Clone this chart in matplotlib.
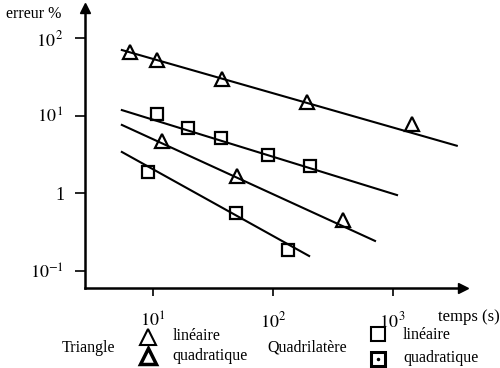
import numpy as np
import matplotlib
matplotlib.use("Agg")
import matplotlib.pyplot as plt

plt.rcParams["font.family"] = ["Liberation Serif", "DejaVu Serif"]
plt.rcParams["mathtext.fontset"] = "stix"

# -----------------------------
# Data
# -----------------------------
tri_lin_t = [6.4, 10.8, 37.6, 192, 1440]
tri_lin_err = [66, 52, 29.7, 15, 7.8]
tri_lin_line_t = [5.5, 3400]
tri_lin_line_err = [70, 4.1]

quad_lin_t = [10.8, 19.6, 36.9, 91, 203]
quad_lin_err = [10.5, 6.95, 5.16, 3.12, 2.25]
quad_lin_line_t = [5.5, 1080]
quad_lin_line_err = [11.8, 0.95]

tri_quad_t = [11.9, 50, 383]
tri_quad_err = [4.72, 1.68, 0.455]
tri_quad_line_t = [5.5, 708]
tri_quad_line_err = [7.6, 0.244]

quad_quad_t = [9.1, 49.2, 133]
quad_quad_err = [1.88, 0.56, 0.187]
quad_quad_line_t = [5.5, 200]
quad_quad_line_err = [3.41, 0.156]

x_ticks = [10, 100, 1000]
x_tick_labels = ["$10^{1}$", "$10^{2}$", "$10^{\\,3}$"]
y_ticks = [0.1, 1, 10, 100]
y_tick_labels = ["$10^{-1}$", "1", "$10^{\\,1}$", "$10^{\\,2}$"]

W, H = 500, 368


def fx(px):
    return px / W


def fy(py):
    return 1 - py / H


fig = plt.figure(figsize=(5, 3.68), dpi=100)
ax = fig.add_axes([fx(85), fy(288), fx(463) - fx(85), fy(8) - fy(288)])
ax.set_xscale("log")
ax.set_yscale("log")
ax.set_xlim(10 ** 0.4333, 10 ** 3.5833)
ax.set_ylim(10 ** -1.2188, 10 ** 2.386)

# fitted lines
for lt, le in [(tri_lin_line_t, tri_lin_line_err), (quad_lin_line_t, quad_lin_line_err),
               (tri_quad_line_t, tri_quad_line_err), (quad_quad_line_t, quad_quad_line_err)]:
    ax.plot(lt, le, color="black", lw=1.5, zorder=2)

# markers
tri_style = dict(ls="none", marker="^", ms=10, mfc="none", mec="black", mew=1.6, zorder=3)
sq_style = dict(ls="none", marker="s", ms=9, mfc="none", mec="black", mew=1.6, zorder=3)
ax.plot(tri_lin_t, tri_lin_err, **tri_style)
ax.plot(tri_quad_t, tri_quad_err, **tri_style)
ax.plot(quad_lin_t, quad_lin_err, **sq_style)
ax.plot(quad_quad_t, quad_quad_err, **sq_style)

# axes look
for s in ["top", "right"]:
    ax.spines[s].set_visible(False)
for s in ["left", "bottom"]:
    ax.spines[s].set_linewidth(1.8)
ax.set_xticks(x_ticks)
ax.set_xticklabels(x_tick_labels)
ax.set_yticks(y_ticks)
ax.set_yticklabels(y_tick_labels)
ax.minorticks_off()
ax.tick_params(axis="x", direction="out", length=6, width=1.2, pad=11, labelsize=13)
ax.tick_params(axis="y", direction="out", length=7, width=1.2, pad=8, labelsize=13)

# arrow heads
ax.plot(1, 0, ">", color="black", ms=7, transform=ax.transAxes, clip_on=False)
ax.plot(0, 1, "^", color="black", ms=7, transform=ax.transAxes, clip_on=False)

# labels
fig.text(fx(6), fy(14), "erreur %", fontsize=11.5, ha="left", va="center")
fig.text(fx(438), fy(317), "temps (s)", fontsize=12, ha="left", va="center")

# legend
fs = 11.5
fig.text(fx(62), fy(348), "Triangle", fontsize=fs, ha="left", va="center")
fig.text(fx(267), fy(347), "Quadrilatère", fontsize=fs, ha="left", va="center")
fig.text(fx(173), fy(336), "linéaire", fontsize=fs, ha="left", va="center")
fig.text(fx(172), fy(356), "quadratique", fontsize=fs, ha="left", va="center")
fig.text(fx(403), fy(335), "linéaire", fontsize=fs, ha="left", va="center")
fig.text(fx(403), fy(358), "quadratique", fontsize=fs, ha="left", va="center")

ax.plot([fx(148)], [fy(337)], marker="^", ms=12, mfc="none", mec="black", mew=1.5,
        transform=fig.transFigure, clip_on=False)
ax.plot([fx(148)], [fy(356)], marker="^", ms=12, mfc="none", mec="black", mew=2.5,
        transform=fig.transFigure, clip_on=False)
ax.plot([fx(378)], [fy(334)], marker="s", ms=10, mfc="none", mec="black", mew=1.5,
        transform=fig.transFigure, clip_on=False)
ax.plot([fx(378)], [fy(359)], marker="s", ms=10, mfc="none", mec="black", mew=2.2,
        transform=fig.transFigure, clip_on=False)
ax.plot([fx(378)], [fy(359)], marker=".", ms=3, color="black",
        transform=fig.transFigure, clip_on=False)

fig.savefig("out.png", dpi=100)
plt.close(fig)
